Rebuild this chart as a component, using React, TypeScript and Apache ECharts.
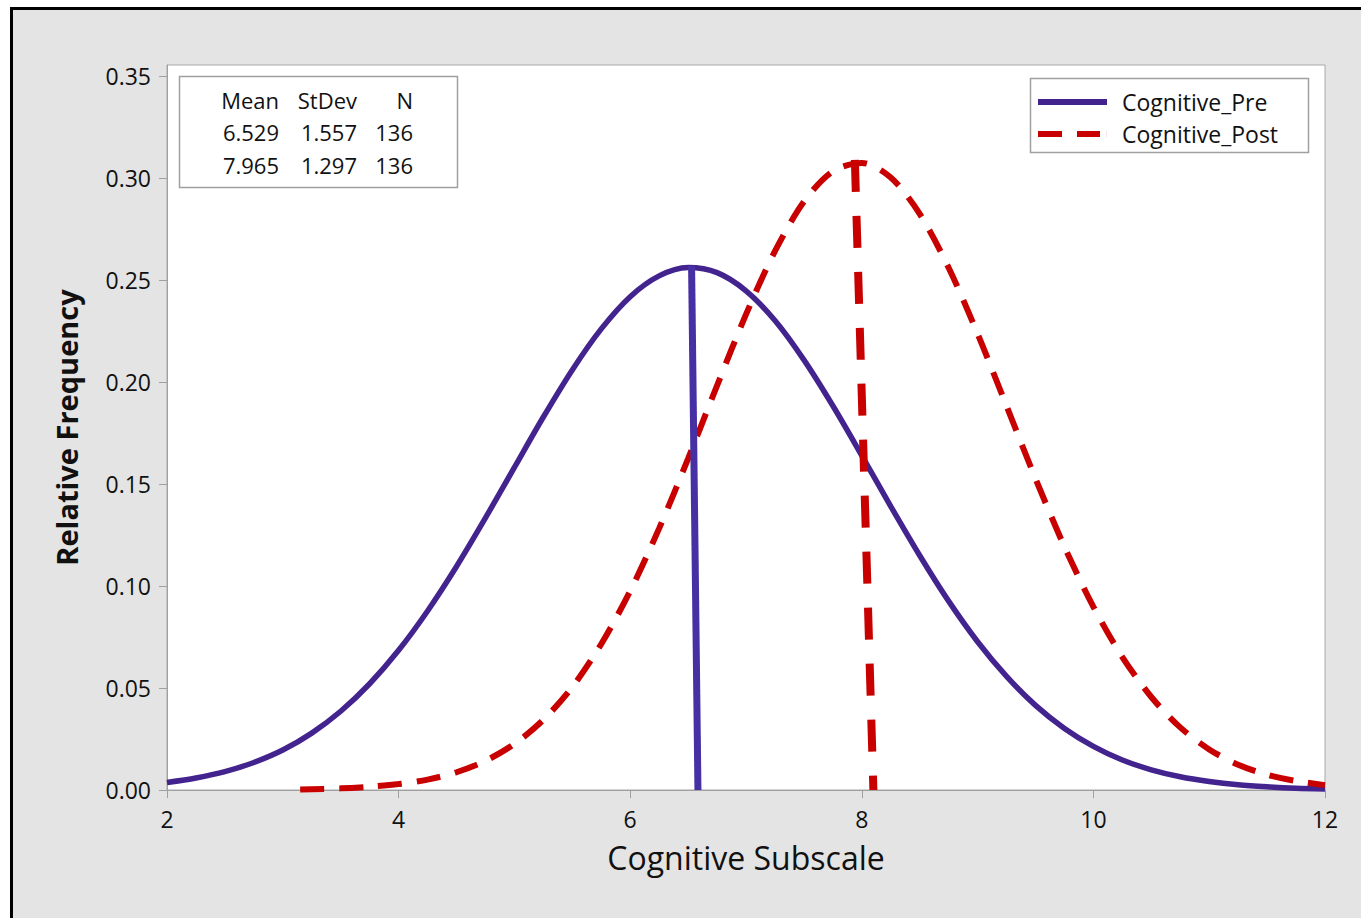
import React, { useEffect, useRef } from "react";
import * as echarts from "echarts";

// ---- data ----
const preX = [2, 2.25, 2.5, 2.75, 3, 3.25, 3.5, 3.75, 4, 4.25, 4.5, 4.75, 5, 5.25, 5.5, 5.75, 6, 6.25, 6.5, 6.75, 7, 7.25, 7.5, 7.75, 8, 8.25, 8.5, 8.75, 9, 9.25, 9.5, 9.75, 10, 10.25, 10.5, 10.75, 11, 11.25, 11.5, 11.75, 12];
const preValues = [0.0037, 0.0059, 0.009, 0.0135, 0.0196, 0.0279, 0.0386, 0.0521, 0.0685, 0.0878, 0.1096, 0.1334, 0.1582, 0.1829, 0.206, 0.2261, 0.2419, 0.2521, 0.2562, 0.2537, 0.2448, 0.2302, 0.2109, 0.1884, 0.164, 0.1391, 0.115, 0.0926, 0.0727, 0.0557, 0.0415, 0.0302, 0.0214, 0.0147, 0.0099, 0.0065, 0.0042, 0.0026, 0.0016, 0.0009, 0.0005];

const postX = [3.15, 3.5, 3.75, 4, 4.25, 4.5, 4.75, 5, 5.25, 5.5, 5.75, 6, 6.25, 6.5, 6.75, 7, 7.25, 7.5, 7.75, 8, 8.25, 8.5, 8.75, 9, 9.25, 9.5, 9.75, 10, 10.25, 10.5, 10.75, 11, 11.25, 11.5, 11.75, 12];
const postValues = [0.0003, 0.0008, 0.0016, 0.0029, 0.0051, 0.0087, 0.0143, 0.0226, 0.0344, 0.0505, 0.0716, 0.0976, 0.1283, 0.1625, 0.1983, 0.2332, 0.2642, 0.2885, 0.3034, 0.3075, 0.3003, 0.2825, 0.2561, 0.2237, 0.1883, 0.1527, 0.1193, 0.0898, 0.0652, 0.0456, 0.0307, 0.0199, 0.0124, 0.0075, 0.0044, 0.0024];

const preMeanLineX = [6.53, 6.585];
const preMeanLineY = [0.257, 0];
const postMeanLineX = [7.94, 8.1];
const postMeanLineY = [0.309, 0];

const seriesNames = ["Cognitive_Pre", "Cognitive_Post"];
const statHeader = ["Mean", "StDev", "N"];
const statRows = [
  ["6.529", "1.557", "136"],
  ["7.965", "1.297", "136"],
];

const xTicks = [2, 4, 6, 8, 10, 12];
const yTicks = [0, 0.05, 0.1, 0.15, 0.2, 0.25, 0.3, 0.35];

const FONT = "'Open Sans', 'Noto Sans', sans-serif";
const PURPLE = "#43238e";
const PURPLE_LINE = "#4630a4";
const RED = "#c80000";

const zip = (xs: number[], ys: number[]) => xs.map((x, i) => [x, ys[i]]);

export default function App() {
  const ref = useRef<HTMLDivElement>(null);
  useEffect(() => {
    if (!ref.current) return;
    const chart = echarts.init(ref.current, null, { renderer: "svg" });
    const statCols = [279, 357, 413];
    const statRowsY = [100, 132, 165];
    const statTexts: any[] = [];
    [statHeader, ...statRows].forEach((row, r) => {
      row.forEach((t, c) => {
        statTexts.push({
          type: "text",
          z: 101,
          x: statCols[c],
          y: statRowsY[r],
          style: {
            text: t,
            align: "right",
            verticalAlign: "middle",
            fontFamily: FONT,
            fontSize: 22,
            fill: "#111111",
          },
        });
      });
    });
    chart.setOption({
      animation: false,
      grid: {
        left: 167,
        right: 36,
        top: 65,
        bottom: 128,
        show: true,
        backgroundColor: "#ffffff",
        borderColor: "#a8a8a8",
        borderWidth: 1,
      },
      xAxis: {
        type: "value",
        min: 2,
        max: 12,
        interval: 2,
        name: "Cognitive Subscale",
        nameLocation: "middle",
        nameGap: 51,
        nameTextStyle: { fontFamily: FONT, fontSize: 32, color: "#111111" },
        axisLine: { show: true, lineStyle: { color: "#a0a0a0", width: 1 } },
        axisTick: { show: true, length: 8, lineStyle: { color: "#a0a0a0" }, customValues: xTicks },
        axisLabel: { fontFamily: FONT, fontSize: 23, color: "#111111", margin: 17, customValues: xTicks },
        splitLine: { show: false },
      },
      yAxis: {
        type: "value",
        min: 0,
        max: 0.3555,
        interval: 0.05,
        name: "Relative Frequency",
        nameLocation: "middle",
        nameGap: 86,
        nameTextStyle: { fontFamily: FONT, fontSize: 29, fontWeight: "bold", color: "#111111" },
        axisLine: { show: true, lineStyle: { color: "#a0a0a0", width: 1 } },
        axisTick: { show: true, length: 8, lineStyle: { color: "#a0a0a0" }, customValues: yTicks },
        axisLabel: {
          fontFamily: FONT,
          fontSize: 23,
          color: "#111111",
          margin: 16,
          customValues: yTicks,
          formatter: (v: number) => v.toFixed(2),
        },
        splitLine: { show: false },
      },
      legend: {
        data: [
          { name: seriesNames[0], icon: "rect" },
          { name: seriesNames[1], icon: "path://M0,0h24v6h-24z M39,0h23v6h-23z M68.9,0h0.1v6h-0.1z" },
        ],
        orient: "vertical",
        left: 1038,
        top: 89,
        itemWidth: 69,
        itemHeight: 6,
        itemGap: 6,
        padding: 0,
        z: 10,
        textStyle: { fontFamily: FONT, fontSize: 23, color: "#111111", lineHeight: 26, padding: [0, 0, 0, 10] },
      },
      graphic: [
        {
          type: "rect",
          z: 100,
          shape: { x: 179.5, y: 76.5, width: 278, height: 111 },
          style: { fill: "#ffffff", stroke: "#a0a0a0", lineWidth: 1.5 },
        },
        ...statTexts,
        {
          type: "rect",
          z: 2,
          shape: { x: 1030.5, y: 78.5, width: 278, height: 74 },
          style: { fill: "#ffffff", stroke: "#a0a0a0", lineWidth: 1.5 },
        },
      ],
      series: [
        {
          name: seriesNames[0],
          type: "line",
          data: zip(preX, preValues),
          smooth: 0.3,
          symbol: "none",
          lineStyle: { color: PURPLE, width: 5.5 },
          itemStyle: { color: PURPLE },
          z: 3,
        },
        {
          name: seriesNames[1],
          type: "line",
          data: zip(postX, postValues),
          smooth: 0.3,
          symbol: "none",
          lineStyle: { color: RED, width: 6, type: [24, 15], cap: "butt" },
          itemStyle: { color: RED },
          z: 4,
        },
        {
          name: "pre-mean",
          type: "line",
          data: zip(preMeanLineX, preMeanLineY),
          symbol: "none",
          lineStyle: { color: PURPLE_LINE, width: 7 },
          z: 5,
        },
        {
          name: "post-mean",
          type: "line",
          data: zip(postMeanLineX, postMeanLineY),
          symbol: "none",
          lineStyle: { color: RED, width: 8, type: [32, 24], cap: "butt" },
          z: 5,
        },
      ],
    });
    return () => chart.dispose();
  }, []);
  return (
    <div style={{ position: "absolute", left: 0, top: 0, width: 1361, height: 918, overflow: "hidden", background: "#ffffff" }}>
      <div
        style={{
          position: "absolute",
          left: 10,
          top: 7,
          width: 1400,
          height: 1000,
          borderLeft: "3px solid #000",
          borderTop: "3px solid #000",
          background: "#e4e4e4",
        }}
      />
      <div ref={ref} style={{ position: "absolute", left: 0, top: 0, width: 1361, height: 918 }} />
    </div>
  );
}
